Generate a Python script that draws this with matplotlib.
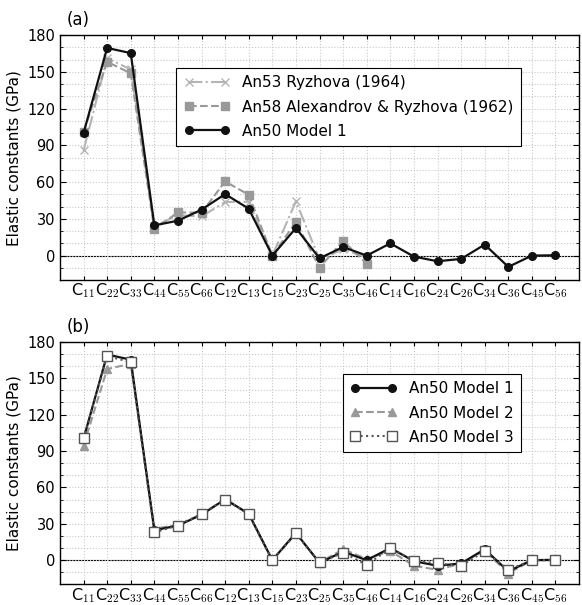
import matplotlib
matplotlib.use("Agg")
import matplotlib.pyplot as plt
import numpy as np
from matplotlib.ticker import MultipleLocator

plt.rcParams['mathtext.fontset'] = 'cm'
plt.rcParams['font.family'] = ['DejaVu Sans']

labels = ["11", "22", "33", "44", "55", "66", "12", "13", "15", "23", "25",
          "35", "46", "14", "16", "24", "26", "34", "36", "45", "56"]
tick_labels = ["C$_{%s}$" % s for s in labels]

model1 = [100, 169.5, 165.3, 24.7, 28.5, 37.5, 50.2, 38.3, 0, 22.5, -2.2,
          7.0, 0, 10.0, -0.8, -4.6, -2.7, 9.0, -9.2, 0, 0.3]
ryzhova = [85.8, 161, 152, 24, 33, 32, 43.7, 44, 0, 44.3, -3, 5, -1.5]
alexandrov = [101, 158.2, 148.8, 21.7, 35.3, 35, 60.5, 49.7, 0, 27.4, -9.8, 12, -6.5]

model2 = [94.5, 157.5, 162, 26, 29, 38, 50, 38, 0, 22, -2, 9, 1,
          7.6, -4.6, -8, -2.7, 8, -11, 0, 0]
model3 = [100.5, 168.3, 163.2, 23, 28.5, 38, 50, 38, 0, 22, -1.9, 6.2, -3.8,
          9.8, -0.3, -2.7, -4.6, 7.3, -8, 0, 0]

fig = plt.figure(figsize=(5.82, 6.05), dpi=100)
ax1 = fig.add_axes([0.103, 0.537, 0.892, 0.405])
ax2 = fig.add_axes([0.103, 0.034, 0.892, 0.401])

x = np.arange(len(labels))


def style(ax):
    ax.set_xlim(-1, len(labels))
    ax.set_ylim(-20, 180)
    ax.set_xticks(x)
    ax.set_xticklabels(tick_labels, fontsize=11.5)
    ax.yaxis.set_major_locator(MultipleLocator(30))
    ax.yaxis.set_minor_locator(MultipleLocator(10))
    ax.tick_params(axis='both', which='both', direction='in', top=True, right=True)
    ax.tick_params(axis='y', which='major', length=4, labelsize=10.5)
    ax.tick_params(axis='y', which='minor', length=2.5)
    ax.tick_params(axis='x', which='major', length=3, pad=1)
    ax.grid(True, which='both', axis='y', color='#c8c8c8', linestyle=':', linewidth=0.8)
    ax.grid(True, which='major', axis='x', color='#c8c8c8', linestyle=':', linewidth=0.8)
    ax.axhline(0, color='black', linewidth=0.8, zorder=1)
    ax.set_ylabel("Elastic constants (GPa)", fontsize=11, labelpad=4)
    for sp in ax.spines.values():
        sp.set_linewidth(1.0)


style(ax1)
ax1.plot(x[:len(ryzhova)], ryzhova, color='#b4b4b4', linestyle='-.', marker='x',
         markersize=6, linewidth=1.5, label='An53 Ryzhova (1964)', zorder=3)
ax1.plot(x[:len(alexandrov)], alexandrov, color='#999999', linestyle='--', marker='s',
         markersize=5.5, linewidth=1.5, label='An58 Alexandrov & Ryzhova (1962)', zorder=3)
ax1.plot(x, model1, color='#111111', linestyle='-', marker='o', markersize=5.5,
         linewidth=1.6, label='An50 Model 1', zorder=4)
leg1 = ax1.legend(loc='upper right', bbox_to_anchor=(0.903, 0.898), fontsize=11,
                  fancybox=False, edgecolor='black', framealpha=1, handlelength=3,
                  borderpad=0.5, labelspacing=0.6, numpoints=2)
leg1.get_frame().set_linewidth(0.8)
ax1.text(-0.7, 185, "(a)", fontsize=12, va='bottom', ha='left')

style(ax2)
ax2.plot(x, model1, color='#111111', linestyle='-', marker='o', markersize=5.5,
         linewidth=1.6, label='An50 Model 1', zorder=4)
ax2.plot(x, model2, color='#999999', linestyle='--', marker='^', markersize=5.5,
         linewidth=1.5, label='An50 Model 2', zorder=3)
ax2.plot(x, model3, color='#555555', linestyle=':', marker='s', markersize=6.5,
         markerfacecolor='white', markeredgecolor='#555555', markeredgewidth=1.0,
         linewidth=1.5, label='An50 Model 3', zorder=5)
leg2 = ax2.legend(loc='upper right', bbox_to_anchor=(0.903, 0.90), fontsize=11,
                  fancybox=False, edgecolor='black', framealpha=1, handlelength=3,
                  borderpad=0.5, labelspacing=0.6, numpoints=2)
leg2.get_frame().set_linewidth(0.8)
ax2.text(-0.7, 185, "(b)", fontsize=12, va='bottom', ha='left')

fig.savefig("out.png", dpi=100)
